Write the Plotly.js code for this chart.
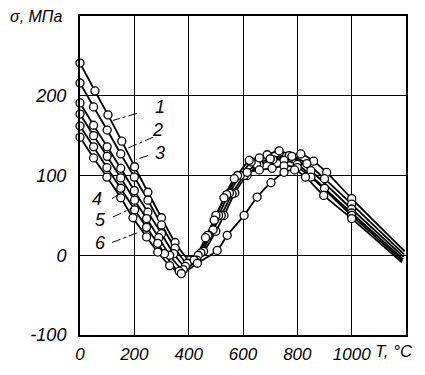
<!DOCTYPE html>
<html><head><meta charset="utf-8">
<script src="https://cdn.plot.ly/plotly-3.0.1.min.js"></script>
<style>html,body{margin:0;padding:0;background:#fff}#c{width:425px;height:375px}</style>
</head><body><div id="c"></div>
<script>
// Temperature T (°C) and stress σ (MPa) for curves 1..6; last point of each = line end (no marker)
const T1 = [0, 55, 103, 154, 201, 250, 300, 350, 405, 455, 500, 530, 570, 615, 660, 710, 760, 813, 860, 908, 1000, 1195];
const S1 = [241, 206, 176, 143, 111, 79, 47, 16, -6, 5, 30, 50, 78, 100, 113, 120, 124, 127, 118, 104, 71, 5];
const T2 = [0, 50, 100, 150, 200, 250, 300, 350, 395, 445, 490, 520, 560, 605, 650, 700, 770, 835, 900, 1000, 1193];
const S2 = [216, 186, 157, 127, 98, 69, 38, 9, -10, 3, 32, 50, 77, 100, 114, 121, 125, 115, 96, 64, 1];
const T3 = [0, 50, 100, 150, 200, 250, 300, 345, 388, 435, 475, 510, 550, 590, 630, 689, 733, 780, 850, 1000, 1191];
const S3 = [191, 163, 136, 109, 81, 54, 27, 2, -14, 0, 25, 50, 78, 100, 117, 126, 131, 124, 106, 58, -2];
const T4 = [0, 50, 100, 150, 201, 245, 290, 330, 380, 430, 470, 500, 540, 580, 623, 660, 700, 751, 800, 900, 1000, 1189];
const S4 = [177, 150, 124, 97, 69, 46, 22, 0, -18, -6, 25, 50, 76, 100, 119, 122, 121, 119, 114, 84, 53, -5];
const T5 = [0, 50, 99, 150, 201, 245, 286, 311, 365, 420, 462, 494, 530, 568, 615, 660, 707, 751, 800, 850, 1000, 1187];
const S5 = [162, 136, 110, 84, 57, 35, 15, 2, -20, -6, 22, 44, 72, 96, 104, 107, 109, 112, 110, 98, 50, -7];
const T6 = [0, 50, 99, 150, 195, 245, 286, 330, 373, 432, 505, 542, 604, 652, 703, 751, 790, 830, 897, 1000, 1185];
const S6 = [148, 122, 98, 72, 47, 23, 4, -13, -23, -10, 6, 25, 50, 73, 91, 104, 107, 98, 75, 46, -9];
const curveNames = ['1', '2', '3', '4', '5', '6'];
const xTicks = [0, 200, 400, 600, 800, 1000];
const yTicks = [-100, 0, 100, 200];
const yTickText = ['-100', '0', '100', '200'];

const Ts = [T1, T2, T3, T4, T5, T6];
const Ss = [S1, S2, S3, S4, S5, S6];
const traces = [];
Ts.forEach((t, i) => {
  traces.push({x: t, y: Ss[i], mode: 'lines', name: curveNames[i],
    line: {color: '#000', width: 1.8, shape: 'spline', smoothing: 0.7},
    showlegend: false, hoverinfo: 'skip'});
});
Ts.forEach((t, i) => {
  traces.push({x: t.slice(0, -1), y: Ss[i].slice(0, -1), mode: 'markers', name: curveNames[i],
    marker: {symbol: 'circle', size: 8, color: '#fff', line: {color: '#000', width: 1.3}},
    cliponaxis: false, showlegend: false});
});

const lf = {family: 'Liberation Sans, Arial, sans-serif', size: 17, color: '#000', style: 'italic'};
const labelPos = [[294, 186], [287, 157], [294, 128], [63, 71], [74, 44], [74, 15]];
const leaders = [[210, 178, 121, 169], [269, 148, 173, 134], [250, 125, 206, 120],
                 [118, 71, 166, 82], [121, 48, 191, 59], [118, 16, 210, 28]];
const annotations = curveNames.map((n, i) => ({x: labelPos[i][0], y: labelPos[i][1], xref: 'x', yref: 'y',
  text: n, showarrow: false, font: {family: 'Liberation Sans, Arial, sans-serif', size: 18, color: '#000', style: 'italic'}}));
annotations.push({xref: 'paper', yref: 'paper', x: -0.135, y: 1.0, xanchor: 'center', yanchor: 'middle',
  text: 'σ, МПа', showarrow: false,
  font: {family: 'Liberation Sans, Arial, sans-serif', size: 16, color: '#000', style: 'italic'}});
annotations.push({xref: 'paper', yref: 'paper', x: 0.962, y: -0.053, xanchor: 'center', yanchor: 'middle',
  text: 'T, °C', showarrow: false,
  font: {family: 'Liberation Sans, Arial, sans-serif', size: 17, color: '#000', style: 'italic'}});
const shapes = leaders.map(l => ({type: 'line', xref: 'x', yref: 'y', x0: l[0], y0: l[1], x1: l[2], y1: l[3],
  line: {color: '#000', width: 1, dash: 'dashdot'}}));

const layout = {
  width: 425, height: 375,
  margin: {l: 80, r: 19, t: 16, b: 40},
  paper_bgcolor: '#fff', plot_bgcolor: '#fff',
  xaxis: {range: [0, 1200], tickvals: xTicks, ticktext: xTicks.map(String), showgrid: true,
    gridcolor: '#000', gridwidth: 1, zeroline: false, showline: true, linecolor: '#000', linewidth: 2,
    mirror: true, ticks: '', tickfont: lf, ticklabelstandoff: 3},
  yaxis: {range: [-100, 300], tickvals: yTicks, ticktext: yTickText, showgrid: true,
    gridcolor: '#000', gridwidth: 1, zeroline: false, showline: true, linecolor: '#000', linewidth: 2,
    mirror: true, ticks: '', tickfont: {family: 'Liberation Sans, Arial, sans-serif', size: 18, color: '#000', style: 'italic'},
    ticklabelstandoff: 8},
  annotations: annotations, shapes: shapes, showlegend: false
};
Plotly.newPlot('c', traces, layout, {staticPlot: true});
</script></body></html>
